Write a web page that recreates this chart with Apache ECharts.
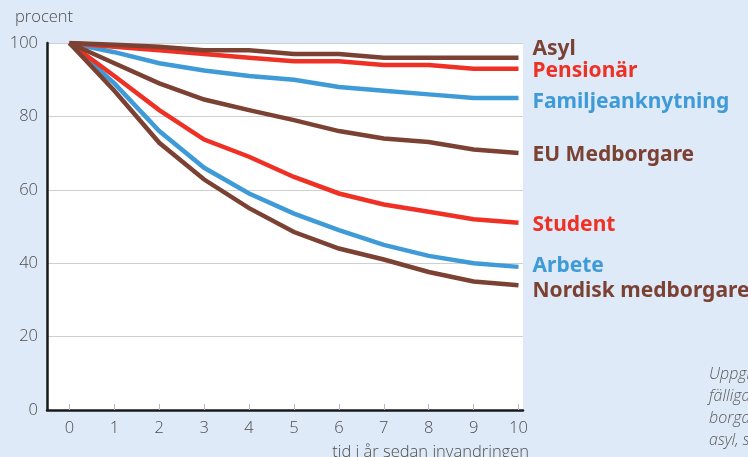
<!DOCTYPE html>
<html lang="sv">
<head>
    <meta charset="UTF-8">
    <title>Andel kvar i Sverige efter invandringsgrund</title>
    <script src="https://cdn.jsdelivr.net/npm/echarts@6.0.0/dist/echarts.min.js"></script>
    <style>
        html, body { margin: 0; padding: 0; background: #deeaf7; }
        #chart-container { width: 748px; height: 457px; }
    </style>
</head>
<body>
<div id="chart-container"></div>

<script>
    // år sedan invandringen
    var years = [0, 1, 2, 3, 4, 5, 6, 7, 8, 9, 10];
    var yTicks = [0, 20, 40, 60, 80, 100];

    // andel kvar, procent
    var asyl = [100, 99.5, 99, 98, 98, 97, 97, 96, 96, 96, 96];
    var pensionar = [100, 99, 98, 97, 96, 95, 95, 94, 94, 93, 93];
    var familj = [100, 97.5, 94.5, 92.5, 91, 90, 88, 87, 86, 85, 85];
    var euMedborgare = [100, 94.5, 89, 84.6, 81.7, 79, 76, 74, 73, 71, 70];
    var student = [100, 91, 81.7, 73.7, 69, 63.5, 59, 56, 54, 52, 51];
    var arbete = [100, 89, 76, 66, 59, 53.5, 49, 45, 42, 40, 39];
    var nordisk = [100, 87, 72.8, 62.8, 55, 48.5, 44, 41, 37.6, 35, 34];

    var RED = "#ee3124", BLUE = "#3f9bd7", BROWN = "#7b4234";
    var labelFont = "Noto Sans";
    var tickFont = { color: "#4d4d4d", fontSize: 16.5, fontFamily: "Open Sans", fontWeight: 300 };

    function pairs(vals) {
        return years.map(function (y, i) { return [y, vals[i]]; });
    }

    function line(name, vals, color, dy) {
        return {
            name: name,
            type: "line",
            data: pairs(vals),
            symbol: "none",
            lineStyle: { color: color, width: 4.5, join: "miter" },
            itemStyle: { color: color },
            endLabel: {
                show: true,
                formatter: name,
                distance: 14,
                offset: [0, dy],
                color: color,
                fontFamily: labelFont,
                fontWeight: "bold",
                fontSize: 21
            },
            animation: false
        };
    }

    var option = {
        backgroundColor: "#deeaf7",
        grid: {
            left: 47, right: 225, top: 43, bottom: 47,
            show: true, backgroundColor: "#ffffff", borderWidth: 0
        },
        xAxis: {
            type: "value",
            min: -0.5,
            max: 10.1,
            axisLine: { show: true, onZero: false, lineStyle: { color: "#1a1a1a", width: 2.5 } },
            axisTick: {
                show: true, inside: true, length: 6,
                customValues: years,
                lineStyle: { color: "#bbbbbb", width: 1 }
            },
            axisLabel: Object.assign({ customValues: years, margin: 10 }, tickFont),
            splitLine: { show: false }
        },
        yAxis: {
            type: "value",
            min: 0,
            max: 100,
            interval: 20,
            axisLine: { show: true, onZero: false, lineStyle: { color: "#1a1a1a", width: 2.5 } },
            axisTick: { show: false },
            axisLabel: Object.assign({ customValues: yTicks, margin: 9 }, tickFont),
            splitLine: { show: true, lineStyle: { color: "#cfcfcf", width: 1.2 } }
        },
        graphic: [
            {
                type: "text", left: 15, top: 9,
                style: { text: "procent", fill: "#4d4d4d", font: "300 16.5px 'Open Sans'" }
            },
            {
                type: "text", x: 529, y: 452,
                style: {
                    text: "tid i år sedan invandringen", fill: "#4d4d4d",
                    font: "300 16.5px 'Open Sans'", textAlign: "right", textVerticalAlign: "middle"
                }
            },
            {
                type: "text", x: 709, y: 363,
                style: {
                    text: "Uppgifterna\nfälliga\nborgare\nasyl, s",
                    fill: "#5a5a5a", font: "italic 300 16px 'Open Sans'", lineHeight: 22
                }
            }
        ],
        series: [
            line("Familjeanknytning", familj, BLUE, 4),
            line("Arbete", arbete, BLUE, -1),
            line("Pensionär", pensionar, RED, 2),
            line("Student", student, RED, 2),
            line("Asyl", asyl, BROWN, -9),
            line("EU Medborgare", euMedborgare, BROWN, 2),
            line("Nordisk medborgare", nordisk, BROWN, 6)
        ]
    };

    var chart = echarts.init(document.getElementById("chart-container"));
    chart.setOption(option);
</script>
</body>
</html>
